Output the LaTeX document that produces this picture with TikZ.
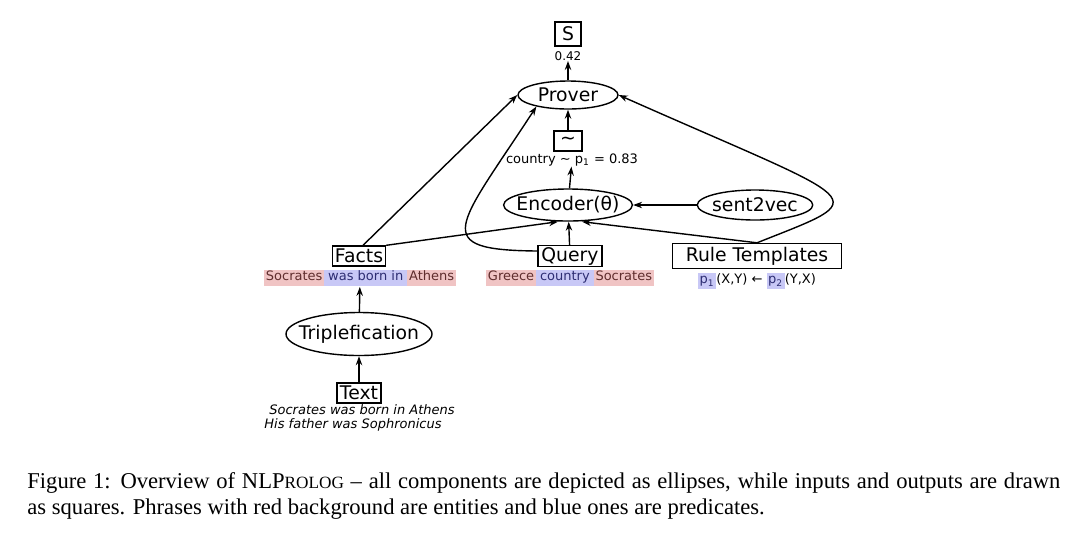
\documentclass[tikz,border=0pt]{standalone}
\usepackage{fontspec}
\setmainfont{DejaVu Sans}
\newfontfamily\capfont{Liberation Serif}
\usepackage{tikz}
\usetikzlibrary{calc}
\usetikzlibrary{arrows.meta}
\usetikzlibrary{shapes.geometric}

\definecolor{entbg}{RGB}{240,196,196}
\definecolor{predbg}{RGB}{200,200,246}
\definecolor{enttxt}{RGB}{95,45,45}
\definecolor{predtxt}{RGB}{45,45,115}
\setlength{\fboxsep}{0.8pt}
\newcommand{\ent}[1]{\colorbox{entbg}{\strut\color{enttxt}#1}}
\newcommand{\pred}[1]{\colorbox{predbg}{\strut\color{predtxt}#1}}
\newcommand{\gap}{\hspace{0.2em}}

\begin{document}
\begin{tikzpicture} [x=0.5pt, y=-0.5pt,
  comp/.style={draw, ellipse, line width=0.7pt, inner sep=0pt, font=\fontsize{9.4}{11}\selectfont},
  io/.style={draw, rectangle, line width=0.7pt, inner sep=0.5pt, font=\fontsize{9.4}{11}\selectfont},
  lbl/.style={inner sep=0pt, font=\fontsize{6.5}{6.5}\selectfont},
  arr/.style={line width=0.7pt, -{Stealth[length=4.5pt, width=3.2pt]}}]
\useasboundingbox (0,0) rectangle (1080,537);

\node[io, minimum width=13pt, minimum height=12pt] (S) at (568,34) {S};
\node[lbl, font=\fontsize{6}{6}\selectfont] (Sval) at (568,56) {0.42};
\node[comp, minimum width=50pt, minimum height=14pt] (prover) at (568,95) {Prover};
\node[io, minimum width=14pt, minimum height=10pt] (sim) at (568,141) {∼};
\node[lbl] (simlbl) at (572,160) {country ∼ p\textsubscript{1} = 0.83};
\node[comp, inner xsep=-3pt, minimum width=63.5pt, minimum height=16pt] (enc) at (568,205) {Encoder(θ)};
\node[comp, inner xsep=-1pt, minimum width=57pt, minimum height=15pt] (s2v) at (755,205) {sent2vec};

\node[io, minimum width=26.5pt, minimum height=10pt] (facts) at (359,256) {Facts};
\node[lbl] (factslbl) at (360,278) {\ent{Socrates}\pred{\gap was born in\gap}\ent{Athens}};
\node[io, minimum width=32pt, minimum height=10.5pt] (query) at (570,256) {Query};
\node[lbl] (querylbl) at (570,278) {\ent{Greece}\pred{\gap country\gap}\ent{Socrates}};
\node[io, minimum width=84.5pt, minimum height=12.5pt] (rt) at (757,256) {Rule Templates};
\node[lbl] (rtlbl) at (757,281) {\pred{p\textsubscript{1}}(X,Y) ← \pred{p\textsubscript{2}}(Y,X)};

\node[comp, inner xsep=-5pt, minimum width=73pt, minimum height=21.5pt] (trip) at (359,334) {Triplefication};
\node[io, minimum width=22pt, minimum height=10pt] (text) at (359,393) {Text};
\node[lbl, font=\fontsize{6.5}{6.5}\selectfont\itshape] (txt1) at (362,410) {Socrates was born in Athens};
\node[lbl, font=\fontsize{6.5}{6.5}\selectfont\itshape] (txt2) at (353,425) {His father was Sophronicus};

\draw[arr] (prover) -- (Sval);
\draw[arr] (sim) -- (prover);
\draw[arr] (enc) -- (simlbl);
\draw[arr] (s2v) -- (enc);
\draw[arr] (facts.north east) -- ($(enc.south)+(-10,0)$);
\draw[arr] (query) -- (enc);
\draw[arr] (rt.north) -- ($(enc.south)+(14,0)$);
\draw[arr] ([xshift=2pt]facts.north) -- (prover.west);
\draw[arr] ($(query.west)+(0,-5)$) .. controls (428,250) and (457,228) .. (prover.-160);
\draw[arr] (rt.north) .. controls (877,195) and (871,207) .. (prover.east);
\draw[arr] (trip) -- (factslbl);
\draw[arr] (text) -- (trip);

\node[anchor=north west, inner sep=0pt, text width=516.5pt, align=justify, font=\capfont\fontsize{11.3}{13}\selectfont] (caption) at (27,472) {Figure 1: Overview of NLP{\fontsize{8.6}{13}\selectfont ROLOG} – all components are depicted as ellipses, while inputs and outputs are drawn\linebreak as squares. Phrases with red background are entities and blue ones are predicates.};

\end{tikzpicture}
\end{document}
